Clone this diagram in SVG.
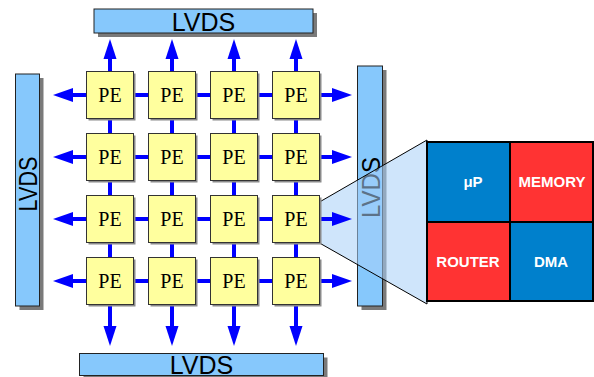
<svg xmlns="http://www.w3.org/2000/svg" width="594" height="377" viewBox="0 0 594 377">
<defs>
<style>
.bar{fill:#86c8fc;stroke:#222;stroke-width:1}
.shadow{fill:#7a7a7a}
.barText{font-family:"Liberation Sans",Arial,sans-serif;font-size:25px;fill:#000;text-anchor:middle}
.pe{fill:#ffff9e;stroke:#333;stroke-width:1}
.peShadow{fill:#8a8a8a}
.peText{font-family:"Liberation Serif","Times New Roman",serif;font-size:20px;fill:#000;text-anchor:middle}
.link{stroke:#0000ff;stroke-width:4;fill:none}
.head{fill:#0000ff}
.cellText{font-family:"Liberation Sans",Arial,sans-serif;font-size:15px;font-weight:bold;fill:#fff;text-anchor:middle}
.blue{fill:#0080cc}
.red{fill:#ff3333}
</style>
</defs>
<rect width="594" height="377" fill="#fff"/>

<g id="lvds-top">
<rect class="shadow" x="98" y="13" width="219" height="24"/>
<rect class="bar" x="94" y="9" width="219" height="24"/>
<text class="barText" x="203.5" y="30.5">LVDS</text>
</g>
<g id="lvds-bottom">
<rect class="shadow" x="83.5" y="357.5" width="244" height="22"/>
<rect class="bar" x="79.5" y="353.5" width="244" height="22"/>
<text class="barText" x="201.5" y="373.5">LVDS</text>
</g>
<g id="lvds-left">
<rect class="shadow" x="19.5" y="78" width="24" height="232"/>
<rect class="bar" x="15.5" y="74" width="24" height="232"/>
<text class="barText" transform="translate(37,184) rotate(-90)" x="0" y="0" textLength="55" lengthAdjust="spacingAndGlyphs">LVDS</text>
</g>
<g id="lvds-right">
<rect class="shadow" x="361.5" y="70" width="25" height="240"/>
<rect class="bar" x="357.5" y="66" width="25" height="240"/>
<text class="barText" transform="translate(379.5,187.5) rotate(-90)" x="0" y="0" textLength="61" lengthAdjust="spacingAndGlyphs">LVDS</text>
</g>

<g id="zoom-cone">
<polygon points="319.5,202 427,140 427,304 319.5,243" fill="#a8d0f8" fill-opacity="0.55" stroke="#000" stroke-width="1"/>
</g>

<g id="connectors">
<line class="link" x1="72" y1="95" x2="334" y2="95"/>
<line class="link" x1="72" y1="157" x2="334" y2="157"/>
<line class="link" x1="72" y1="219" x2="334" y2="219"/>
<line class="link" x1="72" y1="281" x2="334" y2="281"/>
<line class="link" x1="110" y1="58" x2="110" y2="327"/>
<line class="link" x1="172" y1="58" x2="172" y2="327"/>
<line class="link" x1="234" y1="58" x2="234" y2="327"/>
<line class="link" x1="296" y1="58" x2="296" y2="327"/>
<polygon class="head" points="110,39 103.5,59 116.5,59"/>
<polygon class="head" points="172,39 165.5,59 178.5,59"/>
<polygon class="head" points="234,39 227.5,59 240.5,59"/>
<polygon class="head" points="296,39 289.5,59 302.5,59"/>
<polygon class="head" points="110,346 103.5,326 116.5,326"/>
<polygon class="head" points="172,346 165.5,326 178.5,326"/>
<polygon class="head" points="234,346 227.5,326 240.5,326"/>
<polygon class="head" points="296,346 289.5,326 302.5,326"/>
<polygon class="head" points="53,95 73,88 73,102"/>
<polygon class="head" points="53,157 73,150 73,164"/>
<polygon class="head" points="53,219 73,212 73,226"/>
<polygon class="head" points="53,281 73,274 73,288"/>
<polygon class="head" points="352,95 332,88 332,102"/>
<polygon class="head" points="352,157 332,150 332,164"/>
<polygon class="head" points="352,219 332,212 332,226"/>
<polygon class="head" points="352,281 332,274 332,288"/>
</g>

<g id="pe-1-1"><rect class="peShadow" x="88.5" y="73.5" width="47" height="47"/><rect class="pe" x="86.5" y="71.5" width="47" height="47"/><text class="peText" x="110" y="102">PE</text></g>
<g id="pe-1-2"><rect class="peShadow" x="150.5" y="73.5" width="47" height="47"/><rect class="pe" x="148.5" y="71.5" width="47" height="47"/><text class="peText" x="172" y="102">PE</text></g>
<g id="pe-1-3"><rect class="peShadow" x="212.5" y="73.5" width="47" height="47"/><rect class="pe" x="210.5" y="71.5" width="47" height="47"/><text class="peText" x="234" y="102">PE</text></g>
<g id="pe-1-4"><rect class="peShadow" x="274.5" y="73.5" width="47" height="47"/><rect class="pe" x="272.5" y="71.5" width="47" height="47"/><text class="peText" x="296" y="102">PE</text></g>

<g id="pe-2-1"><rect class="peShadow" x="88.5" y="135.5" width="47" height="47"/><rect class="pe" x="86.5" y="133.5" width="47" height="47"/><text class="peText" x="110" y="164">PE</text></g>
<g id="pe-2-2"><rect class="peShadow" x="150.5" y="135.5" width="47" height="47"/><rect class="pe" x="148.5" y="133.5" width="47" height="47"/><text class="peText" x="172" y="164">PE</text></g>
<g id="pe-2-3"><rect class="peShadow" x="212.5" y="135.5" width="47" height="47"/><rect class="pe" x="210.5" y="133.5" width="47" height="47"/><text class="peText" x="234" y="164">PE</text></g>
<g id="pe-2-4"><rect class="peShadow" x="274.5" y="135.5" width="47" height="47"/><rect class="pe" x="272.5" y="133.5" width="47" height="47"/><text class="peText" x="296" y="164">PE</text></g>

<g id="pe-3-1"><rect class="peShadow" x="88.5" y="197.5" width="47" height="47"/><rect class="pe" x="86.5" y="195.5" width="47" height="47"/><text class="peText" x="110" y="226">PE</text></g>
<g id="pe-3-2"><rect class="peShadow" x="150.5" y="197.5" width="47" height="47"/><rect class="pe" x="148.5" y="195.5" width="47" height="47"/><text class="peText" x="172" y="226">PE</text></g>
<g id="pe-3-3"><rect class="peShadow" x="212.5" y="197.5" width="47" height="47"/><rect class="pe" x="210.5" y="195.5" width="47" height="47"/><text class="peText" x="234" y="226">PE</text></g>
<g id="pe-3-4"><rect class="peShadow" x="274.5" y="197.5" width="47" height="47"/><rect class="pe" x="272.5" y="195.5" width="47" height="47"/><text class="peText" x="296" y="226">PE</text></g>

<g id="pe-4-1"><rect class="peShadow" x="88.5" y="259.5" width="47" height="47"/><rect class="pe" x="86.5" y="257.5" width="47" height="47"/><text class="peText" x="110" y="288">PE</text></g>
<g id="pe-4-2"><rect class="peShadow" x="150.5" y="259.5" width="47" height="47"/><rect class="pe" x="148.5" y="257.5" width="47" height="47"/><text class="peText" x="172" y="288">PE</text></g>
<g id="pe-4-3"><rect class="peShadow" x="212.5" y="259.5" width="47" height="47"/><rect class="pe" x="210.5" y="257.5" width="47" height="47"/><text class="peText" x="234" y="288">PE</text></g>
<g id="pe-4-4"><rect class="peShadow" x="274.5" y="259.5" width="47" height="47"/><rect class="pe" x="272.5" y="257.5" width="47" height="47"/><text class="peText" x="296" y="288">PE</text></g>

<g id="pe-detail">
<rect class="blue" x="427" y="142" width="83" height="80"/>
<rect class="red" x="510" y="142" width="83" height="80"/>
<rect class="red" x="427" y="222" width="83" height="79"/>
<rect class="blue" x="510" y="222" width="83" height="79"/>
<rect x="427" y="142" width="166" height="159" fill="none" stroke="#000" stroke-width="2"/>
<line x1="510" y1="142" x2="510" y2="301" stroke="#000" stroke-width="2"/>
<line x1="427" y1="222" x2="593" y2="222" stroke="#000" stroke-width="2"/>
<text class="cellText" x="473" y="187">μP</text>
<text class="cellText" x="552" y="187">MEMORY</text>
<text class="cellText" x="468" y="267">ROUTER</text>
<text class="cellText" x="551" y="267">DMA</text>
</g>
</svg>
